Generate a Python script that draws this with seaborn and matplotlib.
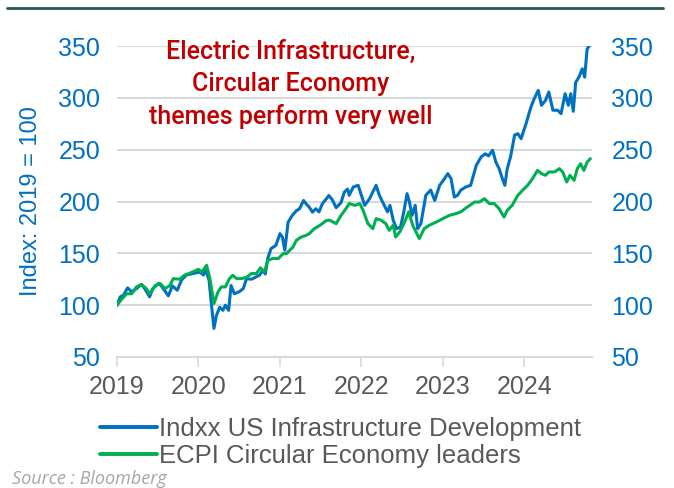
import numpy as np
import pandas as pd
import seaborn as sns
from matplotlib import pyplot as plt
from matplotlib.lines import Line2D

# values (decimal year, index level)
t_indxx = [2019.00, 2019.04, 2019.08, 2019.13, 2019.18, 2019.24, 2019.30, 2019.34, 2019.40, 2019.44,
           2019.51, 2019.55, 2019.63, 2019.68, 2019.74, 2019.79, 2019.85, 2019.93, 2020.02, 2020.06,
           2020.09, 2020.13, 2020.16, 2020.19, 2020.22, 2020.26, 2020.30, 2020.33, 2020.37, 2020.40,
           2020.44, 2020.50, 2020.55, 2020.59, 2020.65, 2020.70, 2020.75, 2020.79, 2020.82, 2020.85,
           2020.89, 2020.95, 2021.00, 2021.03, 2021.06, 2021.10, 2021.15, 2021.20, 2021.24, 2021.29,
           2021.32, 2021.36, 2021.40, 2021.44, 2021.48, 2021.52, 2021.57, 2021.60, 2021.64, 2021.69,
           2021.75, 2021.79, 2021.83, 2021.85, 2021.90, 2021.96, 2022.00, 2022.04, 2022.10, 2022.18,
           2022.22, 2022.26, 2022.32, 2022.35, 2022.39, 2022.43, 2022.48, 2022.52, 2022.56, 2022.59,
           2022.62, 2022.66, 2022.69, 2022.73, 2022.79, 2022.85, 2022.90, 2022.96, 2023.02, 2023.06,
           2023.10, 2023.14, 2023.18, 2023.22, 2023.28, 2023.34, 2023.41, 2023.47, 2023.52, 2023.56,
           2023.61, 2023.65, 2023.69, 2023.73, 2023.76, 2023.79, 2023.83, 2023.88, 2023.92, 2023.96,
           2024.02, 2024.08, 2024.12, 2024.17, 2024.21, 2024.26, 2024.30, 2024.35, 2024.41, 2024.45,
           2024.50, 2024.54, 2024.57, 2024.60, 2024.63, 2024.67, 2024.71, 2024.74, 2024.77, 2024.81]
v_indxx = [100, 108, 109.6, 116.7, 112.8, 116, 120, 116, 108, 116,
           121, 118, 109, 118.6, 114.4, 124, 129, 130.5, 132, 129,
           134, 124, 100, 77.6, 90, 98, 95, 100, 95, 119,
           111, 113, 116, 125.6, 125, 127, 129, 133.7, 130, 145,
           154.5, 157.7, 169, 165.7, 153, 180, 186.5, 191, 193, 201,
           197.8, 194.5, 189.7, 193, 190, 197.8, 202.6, 205.8, 202, 194,
           199, 209, 212, 206, 214, 215.6, 206, 196.3, 202.7, 215.6,
           206, 199.5, 190, 196.3, 182, 173.8, 175.4, 190, 207.6, 199.5,
           186.6, 196.3, 173.8, 178.6, 206, 211, 201, 215.6, 222, 226.9,
           222, 204.3, 206, 211, 214, 215.6, 235, 243, 246, 244,
           249.4, 238, 231.7, 222, 215.6, 231.7, 243, 264, 265.4, 260.6,
           275, 291, 299, 307.2, 292.8, 297.6, 305.6, 288, 288, 284.7,
           304, 292.8, 304, 287, 315, 320, 328, 320, 347, 352]

t_ecpi = [2019.00, 2019.06, 2019.12, 2019.18, 2019.24, 2019.30, 2019.36, 2019.40, 2019.47, 2019.53,
          2019.59, 2019.65, 2019.69, 2019.77, 2019.83, 2019.91, 2020.00, 2020.04, 2020.10, 2020.14,
          2020.19, 2020.24, 2020.28, 2020.33, 2020.38, 2020.42, 2020.47, 2020.53, 2020.59, 2020.65,
          2020.71, 2020.76, 2020.81, 2020.85, 2020.91, 2020.98, 2021.04, 2021.08, 2021.12, 2021.16,
          2021.20, 2021.26, 2021.32, 2021.36, 2021.42, 2021.49, 2021.57, 2021.61, 2021.69, 2021.75,
          2021.81, 2021.85, 2021.92, 2021.98, 2022.02, 2022.08, 2022.14, 2022.18, 2022.24, 2022.30,
          2022.34, 2022.39, 2022.42, 2022.47, 2022.53, 2022.58, 2022.63, 2022.67, 2022.71, 2022.77,
          2022.83, 2022.92, 2023.00, 2023.08, 2023.16, 2023.22, 2023.30, 2023.39, 2023.45, 2023.51,
          2023.57, 2023.63, 2023.69, 2023.75, 2023.79, 2023.85, 2023.92, 2023.98, 2024.04, 2024.10,
          2024.16, 2024.21, 2024.26, 2024.30, 2024.37, 2024.43, 2024.47, 2024.52, 2024.56, 2024.61,
          2024.65, 2024.69, 2024.73, 2024.77, 2024.81]
v_ecpi = [100, 106, 111, 111, 117.6, 120, 116, 111, 119, 120.8,
          116, 119, 125.6, 125, 129, 131.4, 134.6, 132, 138.5, 125.6,
          101.6, 112.8, 117.6, 117.6, 125.6, 128.8, 125.6, 125.6, 127, 130.5,
          130.5, 136, 132, 143, 145, 145, 149.7, 149.7, 153, 156,
          162.5, 165.7, 167.3, 169, 173.7, 177, 181.7, 182, 178.6, 186.6,
          193, 198, 196.3, 198, 191.5, 178.6, 173.8, 183.5, 182, 178.6,
          172.2, 177, 165.8, 170.6, 180.2, 190, 177, 170.6, 164.2, 173.8,
          177, 180.2, 183.5, 186.6, 188.3, 190, 194.7, 199.5, 199.5, 202.7,
          198, 198, 193, 185, 191.5, 196.3, 206, 211, 215.6, 222,
          230, 226.9, 225.3, 228.5, 228.5, 231.7, 228.5, 218.8, 225.3, 220.4,
          231.7, 236.5, 230, 238, 241.3]

series_names = ["Indxx US Infrastructure Development", "ECPI Circular Economy leaders"]
year_ticks = [2019, 2020, 2021, 2022, 2023, 2024]
y_ticks = [50, 100, 150, 200, 250, 300, 350]

blue = "#0070C0"
green = "#00B050"
grey_txt = "#595959"
grid_c = "#D9D9D9"

df = pd.concat([
    pd.DataFrame({"t": t_indxx, "v": v_indxx, "series": series_names[0]}),
    pd.DataFrame({"t": t_ecpi, "v": v_ecpi, "series": series_names[1]}),
])

sns.set_theme(style="white")
plt.rcParams["font.family"] = ["Liberation Sans", "DejaVu Sans"]

fig = plt.figure(figsize=(6.74, 4.88), dpi=100)
ax = fig.add_axes([117 / 674, 1 - 357 / 488, (592 - 117) / 674, (357 - 46) / 488])

sns.lineplot(data=df, x="t", y="v", hue="series", palette=[blue, green],
             linewidth=2.2, ax=ax, legend=False, sort=False)

ax.set_xlim(2019, 2024.83)
ax.set_ylim(50, 350)
ax.set_yticks(y_ticks)
ax.set_xticks(year_ticks)
ax.set_xticklabels([str(y) for y in year_ticks])
ax.grid(axis="y", color=grid_c, linewidth=1.5)
ax.set_axisbelow(True)
for s in ["top", "right", "left"]:
    ax.spines[s].set_visible(False)
ax.spines["bottom"].set_color(grid_c)
ax.spines["bottom"].set_linewidth(1.5)
ax.tick_params(axis="x", length=7, width=1.2, color=grid_c, labelsize=18,
               labelcolor=grey_txt, pad=6, direction="out", bottom=True)
ax.tick_params(axis="y", length=0, labelsize=18, labelcolor=blue, pad=12)
ax.set_xlabel("")
ax.set_ylabel("Index: 2019 = 100", color=blue, fontsize=17, labelpad=12)

ax2 = ax.twinx()
ax2.set_ylim(50, 350)
ax2.set_yticks(y_ticks)
for s in ax2.spines.values():
    s.set_visible(False)
ax2.tick_params(axis="y", length=0, labelsize=18, labelcolor=blue, pad=14)

ax.text(0.365, 1.02, "Electric Infrastructure,\nCircular Economy\nthemes perform very well",
        transform=ax.transAxes, ha="center", va="top", color="#C00000",
        fontsize=18, fontfamily="Roboto", fontweight="medium", linespacing=1.4)

handles = [Line2D([], [], color=blue, lw=2.8), Line2D([], [], color=green, lw=2.8)]
fig.legend(handles, series_names, loc="upper left", bbox_to_anchor=(100 / 674, 1 - 417 / 488),
           frameon=False, fontsize=18.5, labelcolor=grey_txt, handlelength=2.2,
           handletextpad=0.1, labelspacing=0.12, borderpad=0, borderaxespad=0)

fig.add_artist(Line2D([7 / 674, 663 / 674], [1 - 8 / 488, 1 - 8 / 488],
                      color="#1F5A52", lw=2, transform=fig.transFigure))

fig.text(12 / 674, 1 - 479 / 488, "Source : Bloomberg", color="#A6A6A6",
         fontsize=13, fontstyle="italic", fontfamily="Open Sans", va="center")

fig.savefig("out.png", dpi=100)
